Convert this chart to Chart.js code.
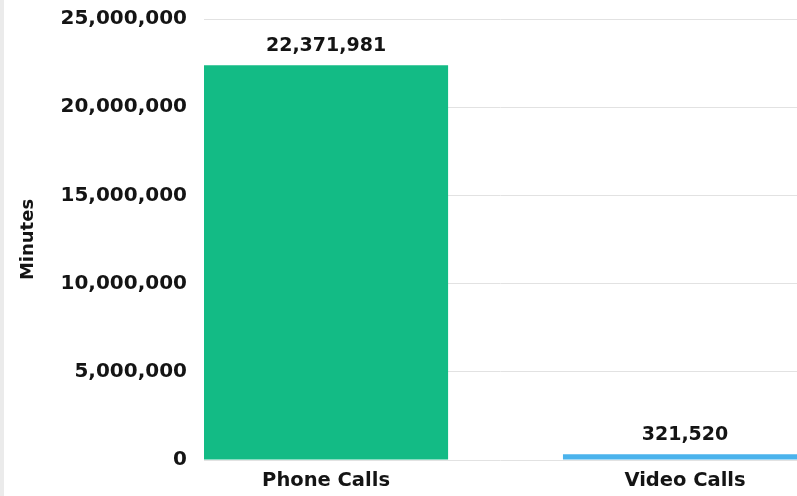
<!DOCTYPE html>
<html>
<head>
<meta charset="utf-8">
<script src="https://cdn.jsdelivr.net/npm/chart.js@4.4.1/dist/chart.umd.min.js"></script>
<style>
  html, body { margin: 0; padding: 0; background: #ebebeb; overflow: hidden; }
  #wrap { position: absolute; left: 4px; top: 0; width: 793px; height: 496px; background: #fff; }
</style>
</head>
<body>
<div id="wrap"><canvas id="c"></canvas></div>
<script>
// data
const categories = ["Phone Calls", "Video Calls"];
const minutes = [22371981, 321520];
const barColors = ["#13bb85", "#4bb3ec"];
const yTicks = [0, 5000000, 10000000, 15000000, 20000000, 25000000];

const textColor = "#141414";
const fontFamily = '"DejaVu Sans", sans-serif';

// numbers above the bars
const valueLabels = {
  id: "valueLabels",
  afterDatasetsDraw(chart) {
    const ctx = chart.ctx;
    const meta = chart.getDatasetMeta(0);
    ctx.save();
    ctx.font = "bold 19px " + fontFamily;
    ctx.fillStyle = textColor;
    ctx.textAlign = "center";
    ctx.textBaseline = "middle";
    meta.data.forEach((bar, i) => {
      ctx.fillText(minutes[i].toLocaleString("en-US"), bar.x, bar.y - 19);
    });
    ctx.restore();
  }
};

new Chart(document.getElementById("c"), {
  type: "bar",
  data: {
    datasets: [{
      data: categories.map((c, i) => ({ x: i, y: minutes[i] })),
      backgroundColor: barColors,
      borderWidth: 0,
      categoryPercentage: 0.8,
      barPercentage: 0.85
    }]
  },
  options: {
    responsive: true,
    maintainAspectRatio: false,
    animation: false,
    layout: { padding: { top: 19, right: 0, bottom: 0, left: 0 } },
    plugins: {
      legend: { display: false },
      tooltip: { enabled: false }
    },
    scales: {
      x: {
        type: "linear",
        offset: false,
        min: -0.34,
        max: 1.312,
        grid: { display: false, offset: false },
        border: { display: false },
        afterBuildTicks: (scale) => {
          scale.ticks = categories.map((c, i) => ({ value: i }));
        },
        afterFit: (scale) => { scale.height = 36; },
        ticks: {
          padding: 1,
          maxRotation: 0,
          autoSkip: false,
          color: textColor,
          font: { family: fontFamily, size: 19.5, weight: "bold" },
          callback: (v) => categories[v]
        }
      },
      y: {
        min: 0,
        max: 25000000,
        grid: { color: "#e2e2e2", lineWidth: 1, drawTicks: false },
        border: { display: false },
        afterBuildTicks: (scale) => {
          scale.ticks = yTicks.map((v) => ({ value: v }));
        },
        afterFit: (scale) => {
          scale.width = 200;
          scale.paddingTop = 0;
          scale.paddingBottom = 0;
        },
        ticks: {
          padding: 17,
          color: textColor,
          font: { family: fontFamily, size: 20, weight: "bold" },
          callback: (v) => v.toLocaleString("en-US")
        },
        title: {
          display: true,
          text: "Minutes",
          color: textColor,
          padding: { top: 14, bottom: 0 },
          font: { family: fontFamily, size: 18, weight: "bold" }
        }
      }
    }
  },
  plugins: [valueLabels]
});
</script>
</body>
</html>
